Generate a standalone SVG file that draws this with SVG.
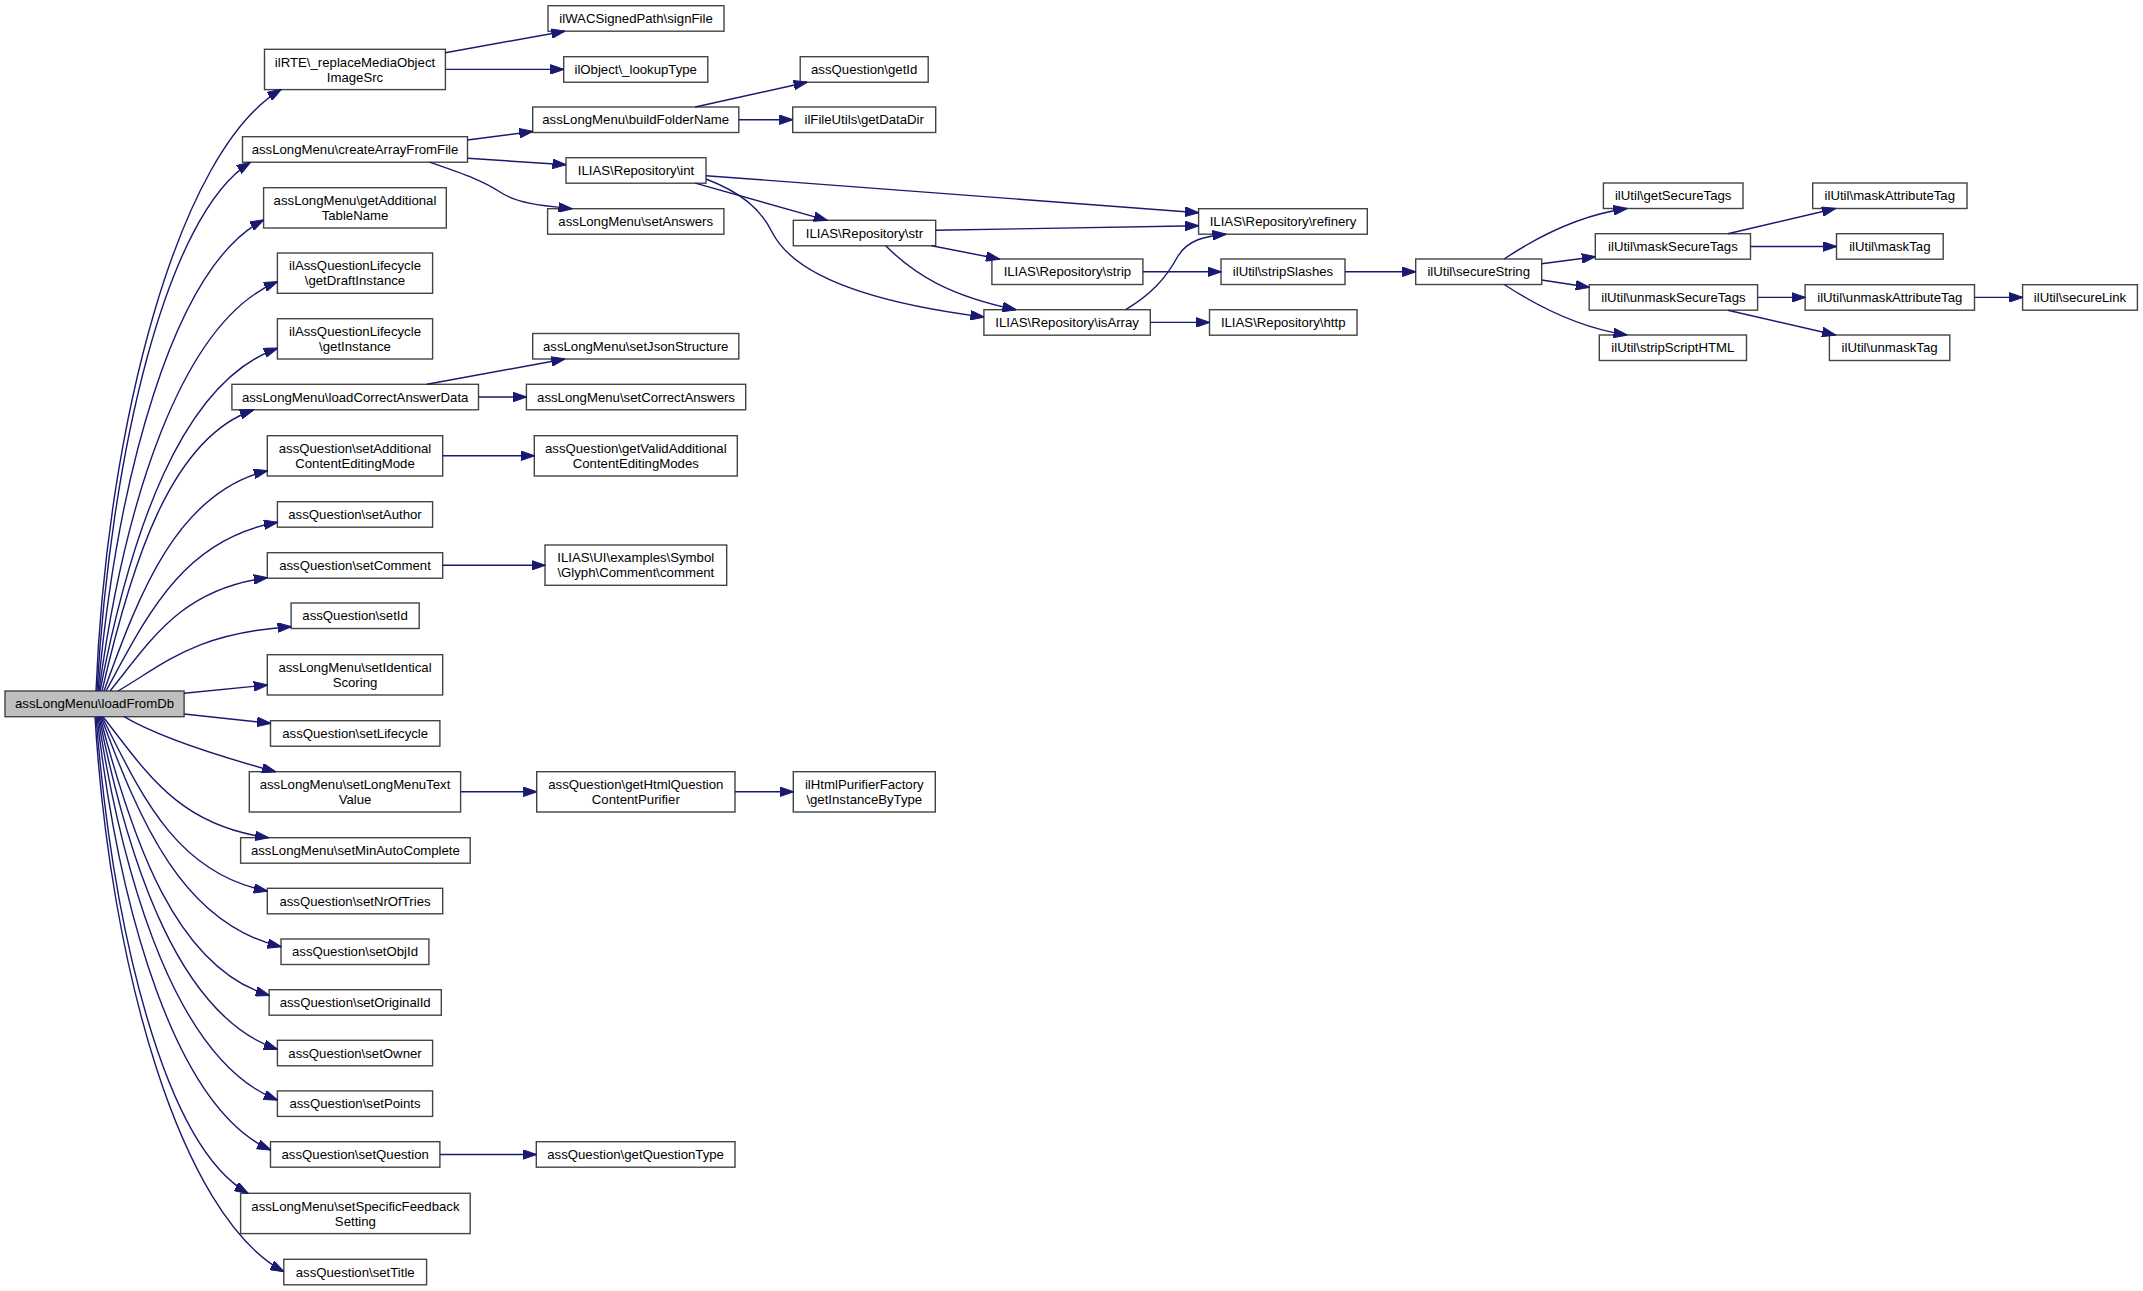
<svg xmlns="http://www.w3.org/2000/svg" width="2143" height="1291" viewBox="0 0 2143 1291">
<style>
.n rect{fill:#ffffff;stroke:#444444;stroke-width:1.4}
.root rect{fill:#bfbfbf}
.n text{font-family:"Liberation Sans",Arial,sans-serif;font-size:13.2px;fill:#000000;text-anchor:middle}
.e path{fill:none;stroke:#191970;stroke-width:1.4;marker-end:url(#arr)}
</style>
<defs>
<marker id="arr" markerUnits="userSpaceOnUse" markerWidth="14" markerHeight="10" refX="13.5" refY="5" orient="auto" viewBox="0 0 14 10"><path d="M0,0.2 L14,5 L0,9.8 z" fill="#191970" stroke="#191970" stroke-width="1"/></marker>
</defs>
<rect width="2143" height="1291" fill="#ffffff"/>

<g id="n_root" class="n root"><rect x="5" y="691" width="179.1" height="25.7"/><text x="94.5" y="708.3">assLongMenu\loadFromDb</text></g>
<g id="n_ilRTE" class="n"><rect x="264.5" y="49.3" width="180.9" height="40.3"/><text x="355" y="66.5">ilRTE\_replaceMediaObject</text><text x="355" y="81.5">ImageSrc</text></g>
<g id="n_signFile" class="n"><rect x="548" y="5.7" width="176" height="25.5"/><text x="636" y="23">ilWACSignedPath\signFile</text></g>
<g id="n_lookupType" class="n"><rect x="563.7" y="56.7" width="144.1" height="25.5"/><text x="635.7" y="74">ilObject\_lookupType</text></g>
<g id="n_createArray" class="n"><rect x="242.5" y="136.7" width="225" height="25.5"/><text x="355" y="154">assLongMenu\createArrayFromFile</text></g>
<g id="n_buildFolderName" class="n"><rect x="532.7" y="107" width="206.1" height="25.5"/><text x="635.7" y="124.3">assLongMenu\buildFolderName</text></g>
<g id="n_getId" class="n"><rect x="800.2" y="56.7" width="128" height="25.5"/><text x="864.2" y="74">assQuestion\getId</text></g>
<g id="n_getDataDir" class="n"><rect x="792.7" y="107" width="143" height="25.5"/><text x="864.2" y="124.3">ilFileUtils\getDataDir</text></g>
<g id="n_int" class="n"><rect x="566" y="157.7" width="140" height="25.5"/><text x="636" y="175">ILIAS\Repository\int</text></g>
<g id="n_setAnswers" class="n"><rect x="547.6" y="208.7" width="176.3" height="25.5"/><text x="635.7" y="226">assLongMenu\setAnswers</text></g>
<g id="n_str" class="n"><rect x="793.3" y="220.3" width="142.4" height="25.5"/><text x="864.5" y="237.6">ILIAS\Repository\str</text></g>
<g id="n_refinery" class="n"><rect x="1198.6" y="208.7" width="168.7" height="25.5"/><text x="1283" y="226">ILIAS\Repository\refinery</text></g>
<g id="n_strip" class="n"><rect x="991.9" y="259" width="151" height="25.5"/><text x="1067.4" y="276.3">ILIAS\Repository\strip</text></g>
<g id="n_stripSlashes" class="n"><rect x="1221" y="259" width="124" height="25.5"/><text x="1283" y="276.3">ilUtil\stripSlashes</text></g>
<g id="n_isArray" class="n"><rect x="983.9" y="309.7" width="166.4" height="25.5"/><text x="1067.1" y="327">ILIAS\Repository\isArray</text></g>
<g id="n_http" class="n"><rect x="1209.5" y="309.7" width="147.5" height="25.5"/><text x="1283.2" y="327">ILIAS\Repository\http</text></g>
<g id="n_secureString" class="n"><rect x="1415.7" y="259" width="126" height="25.5"/><text x="1478.7" y="276.3">ilUtil\secureString</text></g>
<g id="n_getSecureTags" class="n"><rect x="1603.4" y="183" width="139.6" height="25.5"/><text x="1673.2" y="200.3">ilUtil\getSecureTags</text></g>
<g id="n_maskSecureTags" class="n"><rect x="1595.3" y="233.7" width="155.2" height="25.5"/><text x="1672.9" y="251">ilUtil\maskSecureTags</text></g>
<g id="n_unmaskSecureTags" class="n"><rect x="1589.2" y="284.7" width="168.4" height="25.5"/><text x="1673.4" y="302">ilUtil\unmaskSecureTags</text></g>
<g id="n_stripScriptHTML" class="n"><rect x="1599.3" y="335" width="147.2" height="25.5"/><text x="1672.9" y="352.3">ilUtil\stripScriptHTML</text></g>
<g id="n_maskAttributeTag" class="n"><rect x="1812.7" y="183" width="154.3" height="25.5"/><text x="1889.8" y="200.3">ilUtil\maskAttributeTag</text></g>
<g id="n_maskTag" class="n"><rect x="1836.5" y="233.7" width="106.7" height="25.5"/><text x="1889.8" y="251">ilUtil\maskTag</text></g>
<g id="n_unmaskAttributeTag" class="n"><rect x="1805.1" y="284.7" width="169.4" height="25.5"/><text x="1889.8" y="302">ilUtil\unmaskAttributeTag</text></g>
<g id="n_unmaskTag" class="n"><rect x="1829.4" y="335" width="120.4" height="25.5"/><text x="1889.6" y="352.3">ilUtil\unmaskTag</text></g>
<g id="n_secureLink" class="n"><rect x="2022.6" y="284.7" width="114.8" height="25.5"/><text x="2080" y="302">ilUtil\secureLink</text></g>
<g id="n_getAdditional" class="n"><rect x="263.6" y="187.7" width="182.7" height="40.3"/><text x="355" y="204.9">assLongMenu\getAdditional</text><text x="355" y="219.9">TableName</text></g>
<g id="n_getDraftInstance" class="n"><rect x="277.4" y="253" width="155.2" height="40.3"/><text x="355" y="270.2">ilAssQuestionLifecycle</text><text x="355" y="285.2">\getDraftInstance</text></g>
<g id="n_getInstance" class="n"><rect x="277.4" y="318.7" width="155.2" height="40.3"/><text x="355" y="335.9">ilAssQuestionLifecycle</text><text x="355" y="350.9">\getInstance</text></g>
<g id="n_loadCorrect" class="n"><rect x="231.9" y="384.3" width="246.6" height="25.5"/><text x="355.2" y="401.6">assLongMenu\loadCorrectAnswerData</text></g>
<g id="n_setJsonStructure" class="n"><rect x="532.7" y="333.5" width="206.1" height="25.5"/><text x="635.7" y="350.8">assLongMenu\setJsonStructure</text></g>
<g id="n_setCorrectAnswers" class="n"><rect x="526.4" y="384.3" width="219.3" height="25.5"/><text x="636" y="401.6">assLongMenu\setCorrectAnswers</text></g>
<g id="n_setAdditional" class="n"><rect x="267.3" y="435.7" width="175.4" height="40.3"/><text x="355" y="452.9">assQuestion\setAdditional</text><text x="355" y="467.9">ContentEditingMode</text></g>
<g id="n_getValidAdditional" class="n"><rect x="534.3" y="435.7" width="203" height="40.3"/><text x="635.8" y="452.9">assQuestion\getValidAdditional</text><text x="635.8" y="467.9">ContentEditingModes</text></g>
<g id="n_setAuthor" class="n"><rect x="277.4" y="501.7" width="155.2" height="25.5"/><text x="355" y="519">assQuestion\setAuthor</text></g>
<g id="n_setComment" class="n"><rect x="267.3" y="552.7" width="175.4" height="25.5"/><text x="355" y="570">assQuestion\setComment</text></g>
<g id="n_comment" class="n"><rect x="545" y="545" width="181.7" height="40.3"/><text x="635.8" y="562.2">ILIAS\UI\examples\Symbol</text><text x="635.8" y="577.2">\Glyph\Comment\comment</text></g>
<g id="n_setId" class="n"><rect x="291.1" y="603" width="128.1" height="25.5"/><text x="355.1" y="620.3">assQuestion\setId</text></g>
<g id="n_setIdentical" class="n"><rect x="267.3" y="654.7" width="175.4" height="40.3"/><text x="355" y="671.9">assLongMenu\setIdentical</text><text x="355" y="686.9">Scoring</text></g>
<g id="n_setLifecycle" class="n"><rect x="270.5" y="720.7" width="169.4" height="25.5"/><text x="355.2" y="738">assQuestion\setLifecycle</text></g>
<g id="n_setLongMenuText" class="n"><rect x="249.3" y="771.7" width="211.3" height="40.3"/><text x="355" y="788.9">assLongMenu\setLongMenuText</text><text x="355" y="803.9">Value</text></g>
<g id="n_getHtmlQuestion" class="n"><rect x="536.7" y="771.7" width="198.3" height="40.3"/><text x="635.8" y="788.9">assQuestion\getHtmlQuestion</text><text x="635.8" y="803.9">ContentPurifier</text></g>
<g id="n_ilHtmlPurifier" class="n"><rect x="793.3" y="771.7" width="142" height="40.3"/><text x="864.3" y="788.9">ilHtmlPurifierFactory</text><text x="864.3" y="803.9">\getInstanceByType</text></g>
<g id="n_setMinAuto" class="n"><rect x="240.6" y="837.7" width="229.6" height="25.5"/><text x="355.4" y="855">assLongMenu\setMinAutoComplete</text></g>
<g id="n_setNrOfTries" class="n"><rect x="267.3" y="888.3" width="175.4" height="25.5"/><text x="355" y="905.6">assQuestion\setNrOfTries</text></g>
<g id="n_setObjId" class="n"><rect x="281" y="939" width="147.9" height="25.5"/><text x="355" y="956.3">assQuestion\setObjId</text></g>
<g id="n_setOriginalId" class="n"><rect x="269.1" y="989.7" width="172.2" height="25.5"/><text x="355.2" y="1007">assQuestion\setOriginalId</text></g>
<g id="n_setOwner" class="n"><rect x="277.4" y="1040.3" width="155.2" height="25.5"/><text x="355" y="1057.6">assQuestion\setOwner</text></g>
<g id="n_setPoints" class="n"><rect x="277.4" y="1090.9" width="155.2" height="25.5"/><text x="355" y="1108.2">assQuestion\setPoints</text></g>
<g id="n_setQuestion" class="n"><rect x="270.5" y="1141.7" width="169.4" height="25.5"/><text x="355.2" y="1159">assQuestion\setQuestion</text></g>
<g id="n_getQuestionType" class="n"><rect x="536.3" y="1141.7" width="198.7" height="25.5"/><text x="635.6" y="1159">assQuestion\getQuestionType</text></g>
<g id="n_setSpecific" class="n"><rect x="240.6" y="1193.3" width="229.6" height="40.3"/><text x="355.4" y="1210.5">assLongMenu\setSpecificFeedback</text><text x="355.4" y="1225.5">Setting</text></g>
<g id="n_setTitle" class="n"><rect x="283.8" y="1259.3" width="142.8" height="25.5"/><text x="355.2" y="1276.6">assQuestion\setTitle</text></g>

<g id="connectors" class="e">
<path d="M96,691 C107.1,420.2 179.3,149.5 281,89.6"/>
<path d="M97,691 C110.8,453.1 166,215.2 250.3,162.4"/>
<path d="M98,691 C116.9,479 172.7,267.1 263.6,220"/>
<path d="M99,691 C123.9,506.8 179.5,322.6 277.4,281.7"/>
<path d="M100,691 C129.7,536.8 180,382.6 277.4,348.3"/>
<path d="M102,691 C131.2,564.5 170.2,438.1 253.5,410"/>
<path d="M104,691 C139.6,591.9 177.5,492.7 267.3,470.7"/>
<path d="M106,691 C147.1,615.1 183.1,539.2 277.4,522.3"/>
<path d="M110,691 C151.4,640 180.8,589 267.3,577.7"/>
<path d="M118,691 C167,662.1 195.9,633.1 291.1,626.7"/>
<path d="M184.1,693.3 L267.3,685"/>
<path d="M184.1,714 L270.5,723.3"/>
<path d="M124,716.7 C160,738 225,758 275.5,771.7"/>
<path d="M103,716.7 C146,771.2 177.5,825.6 268.6,837.7"/>
<path d="M102,716.7 C141.3,795.1 176.4,873.6 267.3,891"/>
<path d="M101,716.7 C139.5,820.2 182,923.7 281,946.7"/>
<path d="M100,716.7 C132.8,842.1 176,967.4 269.1,995.3"/>
<path d="M99,716.7 C129.5,866.4 179.3,1016 277.4,1049.3"/>
<path d="M98,716.7 C124.9,889.2 178.7,1061.7 277.4,1100"/>
<path d="M97,716.7 C119.4,911.7 175.1,1106.7 270.5,1150"/>
<path d="M96,716.7 C112.9,931.2 164.4,1145.6 248,1193.3"/>
<path d="M95,716.7 C109.9,966.5 180,1216.2 283.8,1271.7"/>

<path d="M445.4,52.7 L564.8,31.2"/>
<path d="M445.4,69.4 L563.7,69.4"/>
<path d="M467.5,140 L532.7,131.5"/>
<path d="M467.5,158.3 L566,164.7"/>
<path d="M429.4,162.2 C470,176 485,182 500,192 C518,204 545,206 572,208.7"/>
<path d="M695.2,107 L807.1,82.2"/>
<path d="M738.8,119.7 L792.7,119.7"/>
<path d="M706,175.7 L1198.6,212.7"/>
<path d="M695.2,183.2 L827.2,220.3"/>
<path d="M706,179 C740,192 760,208 772,232 C790,268 850,300 983.9,317"/>
<path d="M935.7,230.3 L1198.6,225.7"/>
<path d="M931.7,245.8 L999.4,259"/>
<path d="M885.7,245.8 C915,275 950,296 1016,309.7"/>
<path d="M1142.9,271.8 L1221,271.8"/>
<path d="M1125.7,309.7 C1150,295 1165,280 1178,256 C1188,240 1205,236 1226,234.2"/>
<path d="M1150.3,322.4 L1209.5,322.4"/>
<path d="M1345,271.8 L1415.7,271.8"/>
<path d="M1504.2,259 C1540,235 1580,215 1627,208.5"/>
<path d="M1541.7,263.7 L1595.3,256.7"/>
<path d="M1541.7,280 L1589.2,287.3"/>
<path d="M1504.2,284.5 C1540,308 1580,328 1627,335"/>
<path d="M1727.8,233.7 L1835.5,208.5"/>
<path d="M1750.5,246.5 L1836.5,246.5"/>
<path d="M1757.6,297.4 L1805.1,297.4"/>
<path d="M1727.8,310.2 L1835.5,335"/>
<path d="M1974.5,297.4 L2022.6,297.4"/>
<path d="M427,384.3 L564.8,359"/>
<path d="M478.5,397 L526.4,397"/>
<path d="M442.7,455.8 L534.3,455.8"/>
<path d="M442.7,565.3 L545,565.3"/>
<path d="M460.6,791.8 L536.7,791.8"/>
<path d="M735,791.8 L793.3,791.8"/>
<path d="M439.9,1154.5 L536.3,1154.5"/>
</g>
</svg>
